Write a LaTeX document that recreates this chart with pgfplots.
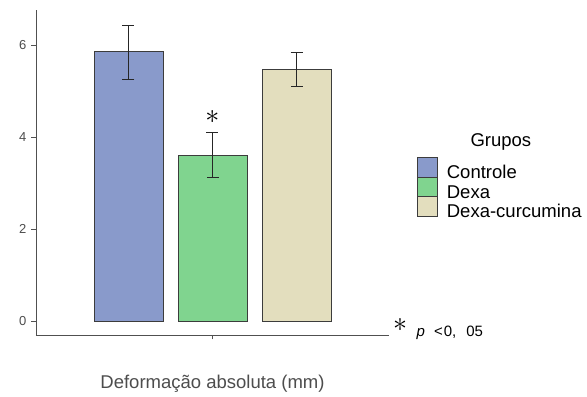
\documentclass[border=0pt]{standalone}
\usepackage{pgfplots}
\pgfplotsset{compat=1.18}
\usepackage{fontspec}
\setmainfont{Liberation Sans}
\definecolor{cA}{RGB}{137,154,203}
\definecolor{cB}{RGB}{128,212,143}
\definecolor{cC}{RGB}{227,222,190}
\definecolor{edge}{RGB}{60,60,60}
\definecolor{axc}{RGB}{80,80,80}
\definecolor{txt}{RGB}{77,77,77}
\begin{document}
\begin{tikzpicture}
\begin{axis}[
  at={(0,0)}, anchor=south west,
  scale only axis, width=353pt, height=325pt,
  xmin=-0.101, xmax=4.101, ymin=-0.304, ymax=6.76,
  axis x line*=bottom, axis y line*=left,
  axis line style={axc, line width=0.8pt, -},
  xtick={2}, xticklabels={},
  ytick={0,2,4,6},
  tick style={axc, line width=0.8pt},
  tick align=outside, major tick length=4.5pt,
  y tick label style={font=\fontsize{13}{13}\selectfont, text=txt, xshift=-1.5pt},
  /pgf/number format/assume math mode=true,
  xlabel={Deformação absoluta (mm)},
  xlabel style={font=\fontsize{18.5}{20}\selectfont, text=txt, at={(axis description cs:0.5,0)}, anchor=base, yshift=-54pt},
  ybar, bar width=69pt,
  legend image code/.code={\draw[#1] (0pt,-3pt) rectangle (19.5pt,16.5pt);},
  legend style={at={(rel axis cs:1.079,0.547)}, anchor=north west, draw=none, fill=none,
    font=\fontsize{18.5}{20}\selectfont, inner sep=0pt, row sep=-6.5pt, column sep=9pt,
    nodes={inner sep=0.5pt, text height=13pt, text depth=4pt}},
  legend cell align=left,
  clip=false,
]
\addplot[fill=cA, draw=edge, line width=0.8pt, bar shift=0pt,
  error bars/.cd, y dir=both, y explicit,
  error bar style={line width=0.9pt, black!85},
  error mark options={line width=0.9pt, black!85, mark size=6pt, rotate=90}]
  coordinates {(1,5.85) += (0,0.58) -= (0,0.59)};
\addlegendentry{Controle}
\addplot[fill=cB, draw=edge, line width=0.8pt, bar shift=0pt,
  error bars/.cd, y dir=both, y explicit,
  error bar style={line width=0.9pt, black!85},
  error mark options={line width=0.9pt, black!85, mark size=6pt, rotate=90}]
  coordinates {(2,3.61) += (0,0.48) -= (0,0.48)};
\addlegendentry{Dexa}
\addplot[fill=cC, draw=edge, line width=0.8pt, bar shift=0pt,
  error bars/.cd, y dir=both, y explicit,
  error bar style={line width=0.9pt, black!85},
  error mark options={line width=0.9pt, black!85, mark size=6pt, rotate=90}]
  coordinates {(3,5.46) += (0,0.38) -= (0,0.37)};
\addlegendentry{Dexa-curcumina}
\node[inner sep=0pt, anchor=center] at (axis cs:2,4.43) {\scalebox{2.8}{$\ast$}};
\node[anchor=base, inner sep=0pt, font=\fontsize{18.5}{20}\selectfont] at (rel axis cs:1.317,0.5815) {Grupos};
\end{axis}
\node[inner sep=0pt, anchor=center] at (364pt,10pt) {\scalebox{2.8}{$\ast$}};
\node[inner sep=0pt, anchor=base west, font=\fontsize{15}{15}\selectfont] at (380.5pt,-2pt) {\textit{p}\hspace{9pt}<\hspace{1pt}0,\hspace{10pt}05};
\path[use as bounding box] (-36pt,-59pt) rectangle (551pt,335pt);
\end{tikzpicture}
\end{document}
